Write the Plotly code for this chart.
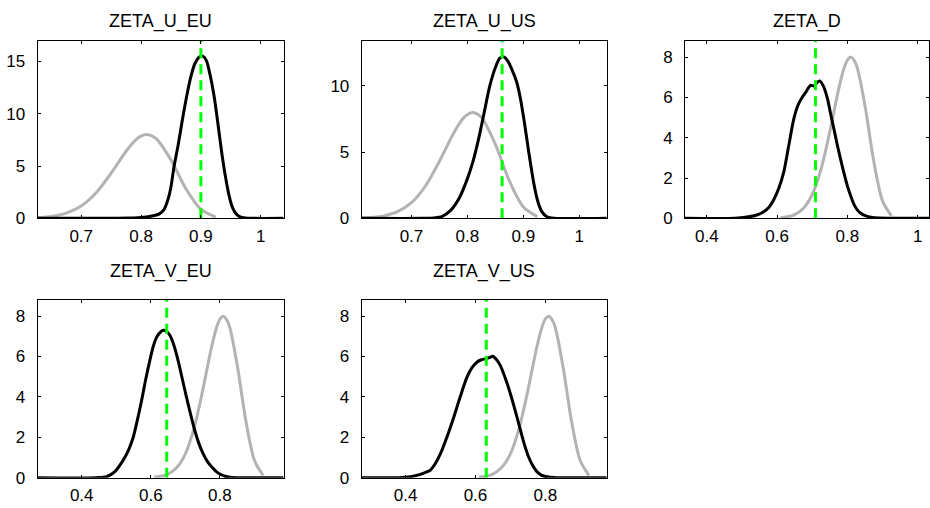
import plotly.graph_objects as go

W, H = 930, 508

titles = ["ZETA_U_EU", "ZETA_U_US", "ZETA_D", "ZETA_V_EU", "ZETA_V_US"]

# prior density (same beta prior in every panel)
prior_x = [0.61, 0.625, 0.65, 0.675, 0.70, 0.725, 0.75, 0.775, 0.79, 0.80, 0.81, 0.825, 0.85, 0.875, 0.90, 0.925]
prior_y = [0.03, 0.06, 0.18, 0.50, 1.18, 2.44, 4.31, 6.41, 7.43, 7.85, 8.00, 7.63, 5.58, 2.82, 0.85, 0.12]

# posterior densities
u_eu_x = [0.627, 0.70, 0.78, 0.805, 0.82, 0.83, 0.838, 0.845, 0.85, 0.855, 0.862, 0.869, 0.876, 0.883, 0.89, 0.897,
          0.903, 0.909, 0.915, 0.922, 0.929, 0.935, 0.941, 0.947, 0.953, 0.96, 0.968, 0.98, 1.038]
u_eu_y = [0, 0, 0.02, 0.10, 0.25, 0.40, 0.80, 1.8, 3.0, 4.9, 7.0, 9.4, 11.6, 13.5, 14.8, 15.4,
          15.5, 15.1, 13.8, 11.7, 8.8, 6.2, 4.0, 2.2, 1.0, 0.35, 0.08, 0.01, 0]

u_us_x = [0.611, 0.72, 0.74, 0.755, 0.77, 0.785, 0.80, 0.81, 0.82, 0.83, 0.84, 0.85, 0.858, 0.865, 0.872, 0.88,
          0.888, 0.895, 0.902, 0.91, 0.918, 0.925, 0.933, 0.942, 0.955, 1.049]
u_us_y = [0, 0, 0.03, 0.15, 0.6, 1.5, 3.0, 4.3, 6.0, 8.0, 10.0, 11.4, 12.1, 12.2, 11.9, 11.2,
          10.3, 9.0, 7.2, 4.9, 2.8, 1.4, 0.5, 0.12, 0.01, 0]

d_x = [0.338, 0.48, 0.514, 0.54, 0.562, 0.577, 0.59, 0.605, 0.619, 0.633, 0.647, 0.659, 0.671, 0.683, 0.695,
       0.705, 0.713, 0.721, 0.732, 0.743, 0.752, 0.762, 0.771, 0.781, 0.79, 0.80, 0.81, 0.819, 0.828, 0.838,
       0.852, 0.867, 0.89, 1.032]
d_y = [0, 0, 0.06, 0.15, 0.33, 0.55, 0.91, 1.5, 2.3, 3.6, 4.9, 5.6, 6.0, 6.3, 6.6,
       6.57, 6.72, 6.82, 6.55, 5.95, 5.2, 4.4, 3.65, 2.9, 2.25, 1.6, 1.08, 0.68, 0.42, 0.25,
       0.12, 0.05, 0.01, 0]

v_eu_x = [0.272, 0.44, 0.472, 0.496, 0.52, 0.535, 0.549, 0.561, 0.573, 0.585, 0.597, 0.607, 0.617, 0.627, 0.636,
          0.645, 0.655, 0.667, 0.679, 0.691, 0.703, 0.715, 0.727, 0.739, 0.751, 0.763, 0.776, 0.788, 0.80,
          0.815, 0.829, 0.85, 0.984]
v_eu_y = [0, 0, 0.05, 0.30, 0.87, 1.35, 2.0, 2.85, 3.8, 4.85, 5.8, 6.5, 6.96, 7.2, 7.3,
          7.25, 7.05, 6.55, 5.8, 4.9, 4.0, 3.15, 2.35, 1.7, 1.2, 0.82, 0.54, 0.33, 0.18,
          0.07, 0.02, 0, 0]

v_us_x = [0.274, 0.38, 0.414, 0.44, 0.462, 0.471, 0.485, 0.50, 0.519, 0.538, 0.557, 0.576, 0.59, 0.605, 0.617,
          0.629, 0.64, 0.65, 0.66, 0.671, 0.685, 0.70, 0.715, 0.729, 0.74, 0.752, 0.764, 0.776, 0.79, 0.805,
          0.825, 0.976]
v_us_y = [0, 0, 0.05, 0.15, 0.30, 0.38, 0.70, 1.2, 2.05, 3.01, 4.05, 4.99, 5.45, 5.73, 5.84,
          5.89, 5.95, 6.01, 5.85, 5.56, 4.95, 4.16, 3.25, 2.35, 1.65, 1.04, 0.6, 0.3, 0.12, 0.05,
          0.01, 0]

post_x = [u_eu_x, u_us_x, d_x, v_eu_x, v_us_x]
post_y = [u_eu_y, u_us_y, d_y, v_eu_y, v_us_y]

# posterior modes (green dashed lines)
modes = [0.900, 0.862, 0.709, 0.646, 0.631]

# axis ranges
x_ranges = [[0.627, 1.038], [0.611, 1.049], [0.338, 1.032], [0.272, 0.984], [0.274, 0.976]]
y_tops = [16.95, 13.4, 8.8, 8.8, 8.8]
x_ticks = [[0.7, 0.8, 0.9, 1.0], [0.7, 0.8, 0.9, 1.0], [0.4, 0.6, 0.8, 1.0], [0.4, 0.6, 0.8], [0.4, 0.6, 0.8]]
y_ticks = [[0, 5, 10, 15], [0, 5, 10], [0, 2, 4, 6, 8], [0, 2, 4, 6, 8], [0, 2, 4, 6, 8]]

# layout in pixels
col_px = [(37.5, 283.5), (361.7, 606.7), (685.0, 929.0)]
row_px = [(41.0, 218.3), (300.0, 477.7)]
title_py = [21.0, 271.0]
cells = [(0, 0), (0, 1), (0, 2), (1, 0), (1, 1)]

FONT = "Liberation Sans, Arial, Helvetica, sans-serif"

fig = go.Figure()
layout = dict(
    width=W, height=H,
    margin=dict(l=0, r=0, t=0, b=0, autoexpand=False),
    paper_bgcolor="white", plot_bgcolor="white",
    showlegend=False,
    font=dict(family=FONT, size=17, color="black"),
    annotations=[],
)

for i in range(5):
    r, c = cells[i]
    xa = "x" if i == 0 else f"x{i+1}"
    ya = "y" if i == 0 else f"y{i+1}"
    # prior
    fig.add_trace(go.Scatter(x=prior_x, y=prior_y, mode="lines", xaxis=xa, yaxis=ya,
                             line=dict(color="#b3b3b3", width=3, shape="spline", smoothing=0.8)))
    # posterior
    fig.add_trace(go.Scatter(x=post_x[i], y=post_y[i], mode="lines", xaxis=xa, yaxis=ya,
                             line=dict(color="black", width=3, shape="spline", smoothing=0.8)))
    # mode
    fig.add_trace(go.Scatter(x=[modes[i], modes[i]], y=[0, y_tops[i]], mode="lines", xaxis=xa, yaxis=ya,
                             line=dict(color="#00ff00", width=3, dash="10px,6px")))

    x0, x1 = col_px[c]
    y0, y1 = row_px[r]
    common = dict(showline=True, linecolor="black", linewidth=1, mirror="ticks",
                  ticks="inside", ticklen=3, tickwidth=1, tickcolor="black",
                  showgrid=False, zeroline=False, fixedrange=True, automargin=False,
                  ticklabeloverflow="allow",
                  tickfont=dict(family=FONT, size=17, color="black"))
    layout["xaxis" if i == 0 else f"xaxis{i+1}"] = dict(
        domain=[x0 / W, x1 / W], range=x_ranges[i], anchor=ya,
        tickvals=x_ticks[i], ticktext=[("%g" % v) for v in x_ticks[i]],
        ticklabelstandoff=2, **common)
    layout["yaxis" if i == 0 else f"yaxis{i+1}"] = dict(
        domain=[1 - y1 / H, 1 - y0 / H], range=[0, y_tops[i]], anchor=xa,
        tickvals=y_ticks[i], ticklabelstandoff=8, **common)
    layout["annotations"].append(dict(
        text=titles[i], x=(x0 + x1) / 2 / W, y=1 - title_py[r] / H,
        xref="paper", yref="paper", xanchor="center", yanchor="middle",
        showarrow=False, font=dict(family=FONT, size=18, color="black")))

fig.update_layout(**layout)
fig.write_html("out.html", config={"displayModeBar": False},
               post_script="document.body.style.margin='0px';document.body.style.overflow='hidden';")
